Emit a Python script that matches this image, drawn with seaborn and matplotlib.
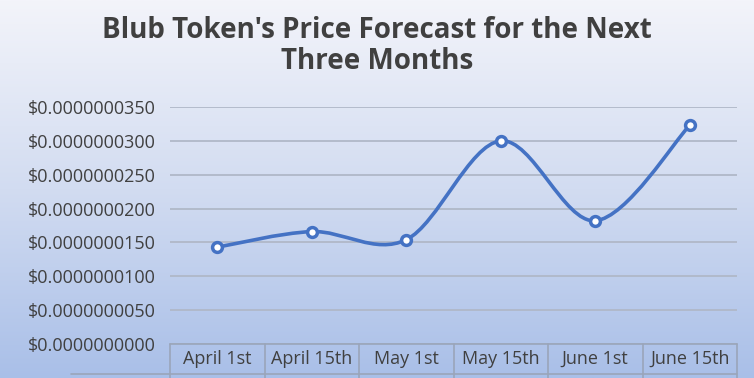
import numpy as np
import pandas as pd
import matplotlib
matplotlib.use("Agg")
import matplotlib.pyplot as plt
import seaborn as sns
from matplotlib.path import Path
from matplotlib.patches import PathPatch
from matplotlib.colors import LinearSegmentedColormap

# data
dates = ["April 1st", "April 15th", "May 1st", "May 15th", "June 1st", "June 15th"]
prices = [1.43e-8, 1.66e-8, 1.54e-8, 3.00e-8, 1.82e-8, 3.23e-8]
y_ticks = [i * 5e-9 for i in range(8)]

df = pd.DataFrame({"pos": range(len(dates)), "date": dates, "price": prices})

sns.set_style("white")
plt.rcParams["font.family"] = ["Open Sans", "DejaVu Sans"]

W, H = 754, 378
fig = plt.figure(figsize=(W / 100, H / 100), dpi=100)

# background gradient
bg = fig.add_axes([0, 0, 1, 1], zorder=-10)
grad = LinearSegmentedColormap.from_list("bg", ["#f3f4fa", "#d2dcf1", "#a9bfe8"])
bg.imshow(np.linspace(0, 1, 256).reshape(-1, 1), aspect="auto", cmap=grad,
          extent=[0, 1, 0, 1])
bg.set_axis_off()

left, right, top, bottom = 170, 737, 107, 344
ax = fig.add_axes([left / W, 1 - bottom / H, (right - left) / W, (bottom - top) / H])
ax.patch.set_alpha(0)

line_col = "#4472c4"
grid_col = "#b0b8c8"
text_col = "#404040"

# smoothed line (Excel-like bezier)
x = df["pos"].to_numpy(float)
y = df["price"].to_numpy(float)
n = len(x)
verts = [(x[0], y[0])]
codes = [Path.MOVETO]
for i in range(n - 1):
    xp, yp = (x[i - 1], y[i - 1]) if i > 0 else (x[i], y[i])
    xn, yn = (x[i + 2], y[i + 2]) if i + 2 < n else (x[i + 1], y[i + 1])
    c1 = (x[i] + (x[i + 1] - xp) / 6, y[i] + (y[i + 1] - yp) / 6)
    c2 = (x[i + 1] - (xn - x[i]) / 6, y[i + 1] - (yn - y[i]) / 6)
    verts += [c1, c2, (x[i + 1], y[i + 1])]
    codes += [Path.CURVE4] * 3
ax.add_patch(PathPatch(Path(verts, codes), fill=False, edgecolor=line_col,
                       lw=2.6, zorder=3, capstyle="round"))

sns.scatterplot(data=df, x="pos", y="price", ax=ax, s=50, color="white",
                edgecolor=line_col, linewidth=2.5, zorder=4, clip_on=False)

ax.set_xlim(-0.5, n - 0.5)
ax.set_ylim(0, 3.5e-8)
ax.set_yticks(y_ticks)
ax.set_yticklabels([f"${v:.10f}" for v in y_ticks], fontsize=13, color=text_col)
ax.set_xticks(range(n))
ax.set_xticklabels(dates, fontsize=13, color=text_col)
ax.tick_params(axis="x", length=0, pad=4.5)
ax.tick_params(axis="y", length=0, pad=10)
ax.set_xlabel("")
ax.set_ylabel("")
for sp in ax.spines.values():
    sp.set_visible(False)
ax.yaxis.grid(True, color=grid_col, lw=1.3)
ax.set_axisbelow(True)

# data table lines under the axis
tbl = dict(color="#9aa5ba", lw=1.2, clip_on=False, transform=fig.transFigure)
ax.plot([left / W, right / W], [1 - bottom / H] * 2, **tbl)
ax.plot([71 / W, right / W], [1 - 374 / H] * 2, **tbl)
for k in range(n + 1):
    xp = (left + k * (right - left) / n) / W
    ax.plot([xp, xp], [1 - bottom / H, 0], **tbl)

fig.text(0.5, 1 - 46 / H, "Blub Token's Price Forecast for the Next\nThree Months",
         ha="center", va="center", fontsize=20, fontweight="bold", color=text_col,
         linespacing=1.07)

fig.savefig("out.png", dpi=100)
